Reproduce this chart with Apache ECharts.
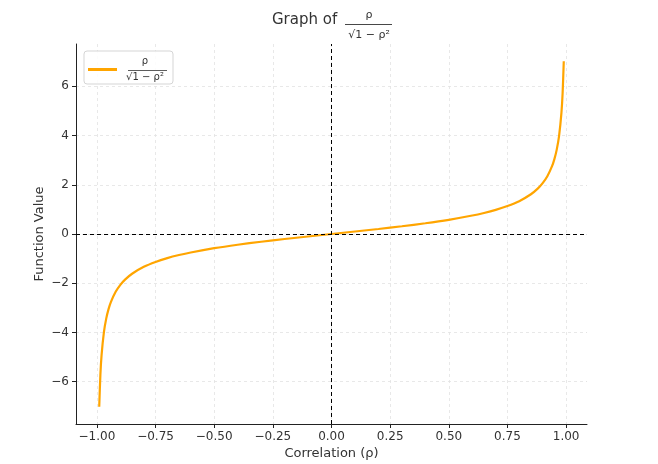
<!DOCTYPE html>
<html>
<head>
<meta charset="utf-8">
<script src="https://cdn.jsdelivr.net/npm/echarts@6/dist/echarts.min.js"></script>
<style>html,body{margin:0;padding:0;background:#fff}#c{width:658px;height:464px}</style>
</head>
<body>
<div id="c"></div>
<script>
var rho = [-0.99,-0.985,-0.98,-0.97,-0.96,-0.95,-0.94,-0.92,-0.90,-0.88,-0.85,-0.80,-0.75,-0.70,-0.65,-0.60,-0.50,-0.40,-0.30,-0.20,-0.10,0,
           0.10,0.20,0.30,0.40,0.50,0.60,0.65,0.70,0.75,0.80,0.85,0.88,0.90,0.92,0.94,0.95,0.96,0.97,0.98,0.985,0.99];
var fval = [-7.018,-5.708,-4.925,-3.990,-3.429,-3.042,-2.755,-2.347,-2.065,-1.853,-1.614,-1.333,-1.134,-0.980,-0.855,-0.750,-0.577,-0.436,-0.314,-0.204,-0.1005,0,
            0.1005,0.204,0.314,0.436,0.577,0.750,0.855,0.980,1.134,1.333,1.614,1.853,2.065,2.347,2.755,3.042,3.429,3.990,4.925,5.708,7.018];
var xTicks = [-1.00,-0.75,-0.50,-0.25,0.00,0.25,0.50,0.75,1.00];
var yTicks = [-6,-4,-2,0,2,4,6];
var seriesName = 'ρ/√(1−ρ²)';

var pts = rho.map(function(r,i){return [r,fval[i]];});
var font = 'DejaVu Sans';
var gridLine = {show:true, lineStyle:{color:'#e3e3e3', type:[3,3], width:0.8}};

var chart = echarts.init(document.getElementById('c'), null, {renderer:'canvas'});
chart.setOption({
  animation:false,
  backgroundColor:'#fff',
  grid:{left:76, right:71, top:44, bottom:40, containLabel:false, outerBoundsMode:'none'},
  xAxis:{
    type:'value', min:-1.089, max:1.089,
    name:'Correlation (ρ)', nameLocation:'middle', nameGap:23, nameMoveOverlap:false,
    nameTextStyle:{fontFamily:font, fontSize:13, color:'#333', verticalAlign:'top'},
    axisLine:{show:true, onZero:false, lineStyle:{color:'#222', width:1}},
    axisTick:{show:true, inside:false, length:4, customValues:xTicks, lineStyle:{color:'#222'}},
    axisLabel:{show:true, customValues:xTicks, margin:7, fontFamily:font, fontSize:12, color:'#333',
      formatter:function(v){return v.toFixed(2).replace('-','−');}},
    splitLine:Object.assign({customValues:xTicks}, gridLine)
  },
  yAxis:{
    type:'value', min:-7.72, max:7.72,
    name:'Function Value', nameLocation:'middle', nameGap:30, nameRotate:90, nameMoveOverlap:false,
    nameTextStyle:{fontFamily:font, fontSize:13, color:'#333'},
    axisLine:{show:true, onZero:false, lineStyle:{color:'#222', width:1}},
    axisTick:{show:true, inside:false, length:4, customValues:yTicks, lineStyle:{color:'#222'}},
    axisLabel:{show:true, customValues:yTicks, margin:7, fontFamily:font, fontSize:12, color:'#333',
      formatter:function(v){return String(v).replace('-','−');}},
    splitLine:Object.assign({customValues:yTicks}, gridLine)
  },
  legend:{
    show:true, left:84, top:51, orient:'vertical',
    backgroundColor:'rgba(255,255,255,0.85)', borderColor:'#d5d5d5', borderWidth:1, borderRadius:3,
    padding:[5,5,2,4],
    itemWidth:29, itemHeight:3, icon:'rect', itemGap:4,
    data:[{name:seriesName, itemStyle:{color:'#FFA500'}}],
    formatter:function(){return '{n|ρ}\n{d|√1 − ρ²}';},
    textStyle:{fontFamily:font, color:'#333',
      rich:{n:{fontSize:10, align:'center', width:46, lineHeight:15, fontFamily:font, color:'#333'},
            d:{fontSize:10, align:'center', width:46, lineHeight:17, fontFamily:font, color:'#333'}}}
  },
  graphic:[
    {type:'text', left:272, top:13, style:{text:'Graph of', fontFamily:font, fontSize:15, fill:'#333'}},
    {type:'text', x:369, y:15, style:{text:'ρ', fontFamily:font, fontSize:11, fill:'#333', align:'center', verticalAlign:'middle'}},
    {type:'line', shape:{x1:345,y1:24.5,x2:392,y2:24.5}, style:{stroke:'#333', lineWidth:0.9}},
    {type:'text', x:369, y:35, style:{text:'√1 − ρ²', fontFamily:font, fontSize:11, fill:'#333', align:'center', verticalAlign:'middle'}},
    {type:'line', shape:{x1:128,y1:70.5,x2:167,y2:70.5}, style:{stroke:'#333', lineWidth:0.8}, z:100}
  ],
  series:[{
    name:seriesName, type:'line', data:pts, showSymbol:false, symbol:'none', smooth:0.3,
    lineStyle:{color:'#FFA500', width:2.2}, itemStyle:{color:'#FFA500'},
    markLine:{
      silent:true, symbol:'none', label:{show:false},
      lineStyle:{color:'#000', type:[4,3], width:1},
      data:[{xAxis:0},{yAxis:0}]
    }
  }]
});
</script>
</body>
</html>
